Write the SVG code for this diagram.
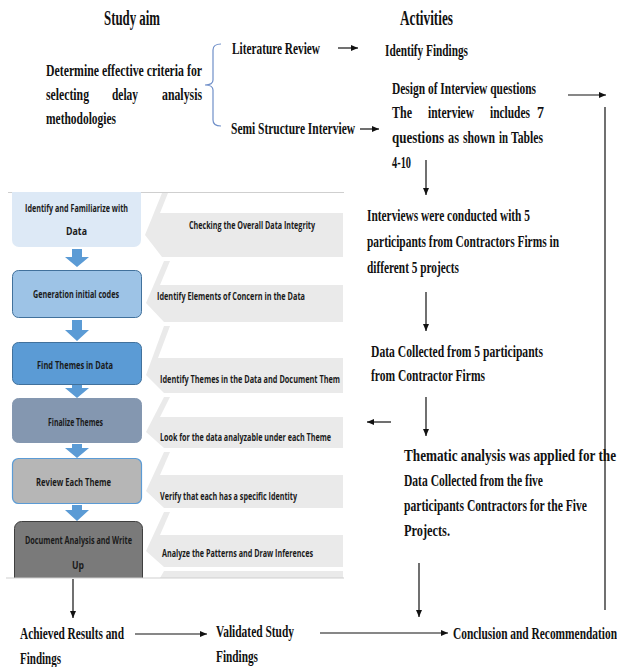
<svg xmlns="http://www.w3.org/2000/svg" width="617" height="667" viewBox="0 0 617 667">
<style>
.t{font-family:"Liberation Serif",serif;font-weight:bold;font-size:17px;fill:#111}
.h{font-family:"Liberation Serif",serif;font-weight:bold;font-size:20px;fill:#111}
.bx{font-family:"Open Sans","Liberation Sans",sans-serif;font-weight:bold;font-size:10.5px;fill:#1a1a1a}
.ln{stroke:#111;stroke-width:1.2;fill:none}
.band{fill:#eaeaea}
.wh{fill:#fff}
.ba{fill:#5b9bd5}
</style>
<defs>
<marker id="ah" markerWidth="7" markerHeight="6" refX="7" refY="3" orient="auto" markerUnits="userSpaceOnUse">
<path d="M0,0 L7,3 L0,6 Z" fill="#111"/>
</marker>
<clipPath id="img"><rect x="0" y="192" width="344" height="386"/></clipPath>
</defs>
<rect width="617" height="667" fill="#fff"/>

<g id="headings">
<text class="h" x="104" y="25" textLength="56" lengthAdjust="spacingAndGlyphs">Study aim</text>
<text class="h" x="400" y="25" textLength="53" lengthAdjust="spacingAndGlyphs">Activities</text>
</g>

<g id="aim">
<text class="t" x="46" y="76" textLength="156" lengthAdjust="spacingAndGlyphs">Determine effective criteria for</text>
<text class="t" x="46" y="100" textLength="43" lengthAdjust="spacingAndGlyphs">selecting</text>
<text class="t" x="112" y="100" textLength="26" lengthAdjust="spacingAndGlyphs">delay</text>
<text class="t" x="162" y="100" textLength="40" lengthAdjust="spacingAndGlyphs">analysis</text>
<text class="t" x="46" y="124" textLength="70" lengthAdjust="spacingAndGlyphs">methodologies</text>
</g>

<g id="brace">
<path d="M221,44 Q213,44 213,50 L213,80 Q213,85 205,85 Q213,85 213,90 L213,120 Q213,126 221,126" fill="none" stroke="#6f8fc9" stroke-width="1.2"/>
</g>

<g id="lit"><text class="t" x="232" y="54" textLength="88" lengthAdjust="spacingAndGlyphs">Literature Review</text></g>
<g id="findings"><text class="t" x="385" y="56" textLength="83" lengthAdjust="spacingAndGlyphs">Identify Findings</text></g>
<g id="semi"><text class="t" x="231" y="134" textLength="124" lengthAdjust="spacingAndGlyphs">Semi Structure Interview</text></g>

<g id="design">
<text class="t" x="392" y="94" textLength="144" lengthAdjust="spacingAndGlyphs">Design of Interview questions</text>
<text class="t" x="392" y="118" textLength="20" lengthAdjust="spacingAndGlyphs">The</text>
<text class="t" x="428" y="118" textLength="46" lengthAdjust="spacingAndGlyphs">interview</text>
<text class="t" x="490" y="118" textLength="40" lengthAdjust="spacingAndGlyphs">includes</text>
<text class="t" x="537" y="118" textLength="7" lengthAdjust="spacingAndGlyphs">7</text>
<text class="t" x="392" y="143" textLength="52" lengthAdjust="spacingAndGlyphs">questions</text>
<text class="t" x="448" y="143" textLength="11" lengthAdjust="spacingAndGlyphs">as</text>
<text class="t" x="463" y="143" textLength="32" lengthAdjust="spacingAndGlyphs">shown</text>
<text class="t" x="499" y="143" textLength="9" lengthAdjust="spacingAndGlyphs">in</text>
<text class="t" x="511" y="143" textLength="32" lengthAdjust="spacingAndGlyphs">Tables</text>
<text class="t" x="392" y="168" textLength="19" lengthAdjust="spacingAndGlyphs">4-10</text>
</g>

<g id="interviews">
<text class="t" x="367" y="221" textLength="163" lengthAdjust="spacingAndGlyphs">Interviews were conducted with 5</text>
<text class="t" x="367" y="247" textLength="192" lengthAdjust="spacingAndGlyphs">participants from Contractors Firms in</text>
<text class="t" x="367" y="273" textLength="92" lengthAdjust="spacingAndGlyphs">different 5 projects</text>
</g>

<g id="collected">
<text class="t" x="371" y="357" textLength="172" lengthAdjust="spacingAndGlyphs">Data Collected from  5 participants</text>
<text class="t" x="371" y="381" textLength="114" lengthAdjust="spacingAndGlyphs">from Contractor Firms</text>
</g>

<g id="thematic">
<text class="t" x="404" y="461" textLength="212" lengthAdjust="spacingAndGlyphs">Thematic analysis was applied for the</text>
<text class="t" x="404" y="486" textLength="139" lengthAdjust="spacingAndGlyphs">Data Collected from the five</text>
<text class="t" x="404" y="511" textLength="183" lengthAdjust="spacingAndGlyphs">participants Contractors for the Five</text>
<text class="t" x="404" y="536" textLength="46" lengthAdjust="spacingAndGlyphs">Projects.</text>
</g>

<g id="achieved">
<text class="t" x="20" y="639" textLength="104" lengthAdjust="spacingAndGlyphs">Achieved Results and</text>
<text class="t" x="20" y="664" textLength="41" lengthAdjust="spacingAndGlyphs">Findings</text>
</g>
<g id="validated">
<text class="t" x="216" y="637" textLength="78" lengthAdjust="spacingAndGlyphs">Validated Study</text>
<text class="t" x="216" y="662" textLength="42" lengthAdjust="spacingAndGlyphs">Findings</text>
</g>
<g id="conclusion"><text class="t" x="453" y="639" textLength="164" lengthAdjust="spacingAndGlyphs">Conclusion and Recommendation</text></g>

<g id="process-image" clip-path="url(#img)">
<line x1="8" y1="192.5" x2="344" y2="192.5" stroke="#cfcfcf" stroke-width="1"/>
<g id="band1">
<polygon class="band" points="343,193 162,193 145,235 162,257 343,257"/>
<polygon class="wh" points="343,193 168,193 160,213 343,213"/>
<text class="bx" x="189" y="229" textLength="126" lengthAdjust="spacingAndGlyphs">Checking the Overall Data Integrity</text>
</g>
<g id="band2">
<polygon class="band" points="343,261 164,261 146,303 164,322 343,322"/>
<polygon class="wh" points="343,261 170,261 160,285 343,285"/>
<text class="bx" x="157" y="300" textLength="148" lengthAdjust="spacingAndGlyphs">Identify Elements of Concern in the Data</text>
</g>
<g id="band3">
<polygon class="band" points="343,326 164,326 146,375 164,393 343,393"/>
<polygon class="wh" points="343,326 170,326 158,358 343,358"/>
<text class="bx" x="160" y="383" textLength="180" lengthAdjust="spacingAndGlyphs">Identify Themes in the Data and Document Them</text>
</g>
<g id="band4">
<polygon class="band" points="343,397 164,397 146,432 164,448 343,448"/>
<polygon class="wh" points="343,397 170,397 160,417 343,417"/>
<text class="bx" x="160" y="441" textLength="171" lengthAdjust="spacingAndGlyphs">Look for the data analyzable under each Theme</text>
</g>
<g id="band5">
<polygon class="band" points="343,452 164,452 146,491 164,508 343,508"/>
<polygon class="wh" points="343,452 170,452 160,475 343,475"/>
<text class="bx" x="160" y="500" textLength="137" lengthAdjust="spacingAndGlyphs">Verify that each has a specific Identity</text>
</g>
<g id="band6">
<polygon class="band" points="343,512 164,512 146,551 164,567 343,567"/>
<polygon class="wh" points="343,512 170,512 160,535 343,535"/>
<text class="bx" x="162" y="557" textLength="151" lengthAdjust="spacingAndGlyphs">Analyze the Patterns and Draw Inferences</text>
</g>
<polygon class="band" points="343,571 164,571 160,578 343,578"/>

<g id="box1">
<rect x="12" y="180" width="129" height="67" rx="7" fill="#dde9f6"/>
<text class="bx" x="25" y="212" textLength="103" lengthAdjust="spacingAndGlyphs">Identify and Familiarize with</text>
<text class="bx" x="66" y="235" textLength="21" lengthAdjust="spacingAndGlyphs">Data</text>
</g>
<path class="ba" d="M72,249 H82 V257 H89 L77,267 L65,257 H72 Z"/>
<g id="box2">
<rect x="12.5" y="270.5" width="129" height="47" rx="6" fill="#9dc3e6" stroke="#41719c" stroke-width="1"/>
<text class="bx" x="33" y="298" textLength="86" lengthAdjust="spacingAndGlyphs">Generation initial codes</text>
</g>
<path class="ba" d="M72,320 H82 V330 H89 L77,341 L65,330 H72 Z"/>
<g id="box3">
<rect x="12.5" y="342.5" width="129" height="42" rx="6" fill="#5b9bd5" stroke="#41719c" stroke-width="1"/>
<text class="bx" x="37" y="369" textLength="76" lengthAdjust="spacingAndGlyphs">Find Themes in Data</text>
</g>
<path class="ba" d="M72,385 H82 V388 H89 L77,398 L65,388 H72 Z"/>
<g id="box4">
<rect x="12.5" y="398.5" width="129" height="44" rx="6" fill="#8497b0" stroke="#8497b0" stroke-width="1"/>
<text class="bx" x="48" y="426" textLength="55" lengthAdjust="spacingAndGlyphs">Finalize Themes</text>
</g>
<path class="ba" d="M72,444 H82 V448 H89 L77,458 L65,448 H72 Z"/>
<g id="box5">
<rect x="12.5" y="458.5" width="129" height="45" rx="6" fill="#b6b6b6" stroke="#5b9bd5" stroke-width="1.2"/>
<text class="bx" x="36" y="486" textLength="75" lengthAdjust="spacingAndGlyphs">Review Each Theme</text>
</g>
<path class="ba" d="M72,505 H82 V510 H89 L77,521 L65,510 H72 Z"/>
<g id="box6">
<rect x="14.5" y="521.5" width="128" height="70" rx="7" fill="#7a7a7a" stroke="#3f3f3f" stroke-width="1"/>
<text class="bx" x="25" y="544" textLength="107" lengthAdjust="spacingAndGlyphs">Document Analysis and Write</text>
<text class="bx" x="72" y="569" textLength="12" lengthAdjust="spacingAndGlyphs">Up</text>
</g>
</g>
<line x1="6" y1="578" x2="344" y2="578" stroke="#cfcfcf" stroke-width="1"/>

<g id="connectors">
<line class="ln" x1="338" y1="48" x2="358" y2="48" marker-end="url(#ah)"/>
<line class="ln" x1="360" y1="129" x2="379" y2="129" marker-end="url(#ah)"/>
<line class="ln" x1="568" y1="95" x2="606" y2="95" marker-end="url(#ah)"/>
<line class="ln" x1="605" y1="107" x2="605" y2="610"/>
<line class="ln" x1="426" y1="160" x2="426" y2="195" marker-end="url(#ah)"/>
<line class="ln" x1="426" y1="292" x2="426" y2="331" marker-end="url(#ah)"/>
<line class="ln" x1="426" y1="397" x2="426" y2="436" marker-end="url(#ah)"/>
<line class="ln" x1="391" y1="422" x2="367" y2="422" marker-end="url(#ah)"/>
<line class="ln" x1="419" y1="563" x2="419" y2="617" marker-end="url(#ah)"/>
<line class="ln" x1="73" y1="579" x2="73" y2="618" marker-end="url(#ah)"/>
<line class="ln" x1="135" y1="634" x2="207" y2="634" marker-end="url(#ah)"/>
<line class="ln" x1="320" y1="633" x2="448" y2="633" marker-end="url(#ah)"/>
</g>
</svg>
